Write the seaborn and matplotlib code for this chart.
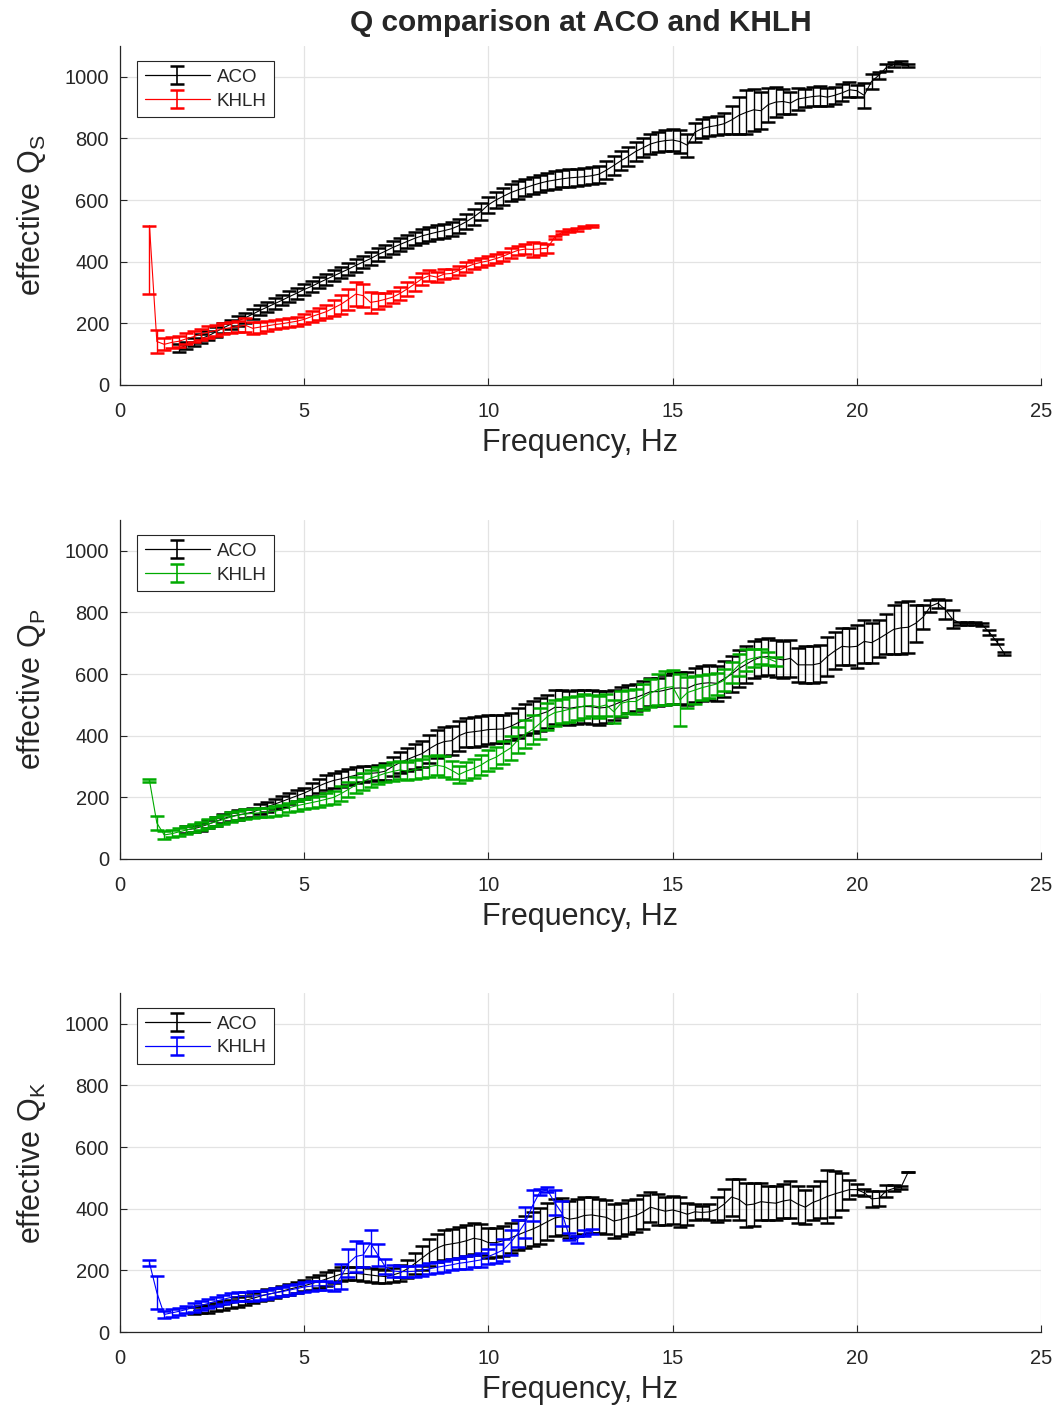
import numpy as np
import pandas as pd
import matplotlib
matplotlib.use("Agg")
import matplotlib.pyplot as plt
import seaborn as sns
from matplotlib.lines import Line2D
from matplotlib.collections import LineCollection
from matplotlib.container import ErrorbarContainer

# ---------------- data ----------------
ACO_S_F = [1.6, 1.8, 2.0, 2.2, 2.4, 2.6, 2.8, 3.0, 3.2, 3.4,
           3.6, 3.8, 4.0, 4.2, 4.4, 4.6, 4.8, 5.0, 5.2, 5.4,
           5.6, 5.8, 6.0, 6.2, 6.4, 6.6, 6.8, 7.0, 7.2, 7.4,
           7.6, 7.8, 8.0, 8.2, 8.4, 8.6, 8.8, 9.0, 9.2, 9.4,
           9.6, 9.8, 10.0, 10.2, 10.4, 10.6, 10.8, 11.0, 11.2, 11.4,
           11.6, 11.8, 12.0, 12.2, 12.4, 12.6, 12.8, 13.0, 13.2, 13.4,
           13.6, 13.8, 14.0, 14.2, 14.4, 14.6, 14.8, 15.0, 15.2, 15.4,
           15.6, 15.8, 16.0, 16.2, 16.4, 16.6, 16.8, 17.0, 17.2, 17.4,
           17.6, 17.8, 18.0, 18.2, 18.4, 18.6, 18.8, 19.0, 19.2, 19.4,
           19.6, 19.8, 20.0, 20.2, 20.4, 20.6, 20.8, 21.0, 21.2, 21.4]
ACO_S_Q = [120, 128, 140, 150, 160, 172, 185, 197, 208, 218,
           230, 242, 253, 264, 275, 287, 298, 310, 320, 332,
           343, 354, 365, 376, 388, 399, 410, 423, 434, 446,
           456, 466, 476, 484, 490, 496, 501, 507, 517, 530,
           545, 563, 585, 600, 612, 624, 633, 640, 648, 655,
           661, 665, 669, 672, 674, 676, 679, 684, 697, 712,
           728, 742, 758, 770, 782, 789, 793, 795, 790, 778,
           820, 832, 838, 842, 848, 860, 875, 885, 893, 890,
           910, 918, 920, 915, 928, 932, 936, 938, 934, 940,
           948, 958, 955, 940, 985, 1005, 1030, 1040, 1046, 1036]
ACO_S_E = [12, 12, 14, 14, 15, 15, 15, 15, 16, 16,
           16, 16, 17, 17, 17, 18, 18, 18, 18, 18,
           18, 18, 19, 19, 20, 20, 20, 20, 20, 21,
           21, 21, 22, 22, 22, 22, 23, 23, 23, 24,
           25, 26, 26, 27, 27, 28, 28, 28, 28, 28,
           28, 28, 28, 28, 28, 28, 28, 28, 30, 30,
           30, 30, 30, 30, 32, 32, 34, 35, 38, 38,
           30, 30, 30, 32, 35, 45, 60, 72, 68, 60,
           55, 50, 40, 35, 35, 30, 30, 32, 30, 28,
           28, 25, 20, 40, 25, 12, 10, 8, 6, 5]

KHLH_S_F = [0.8, 1.0, 1.2, 1.4, 1.6, 1.8, 2.0, 2.2, 2.4, 2.6,
            2.8, 3.0, 3.2, 3.4, 3.6, 3.8, 4.0, 4.2, 4.4, 4.6,
            4.8, 5.0, 5.2, 5.4, 5.6, 5.8, 6.0, 6.2, 6.4, 6.6,
            6.8, 7.0, 7.2, 7.4, 7.6, 7.8, 8.0, 8.2, 8.4, 8.6,
            8.8, 9.0, 9.2, 9.4, 9.6, 9.8, 10.0, 10.2, 10.4, 10.6,
            10.8, 11.0, 11.2, 11.4, 11.6, 11.8, 12.0, 12.2, 12.4, 12.6,
            12.8]
KHLH_S_Q = [517, 141, 132, 138, 142, 150, 157, 165, 172, 177,
            182, 186, 190, 194, 184, 188, 192, 196, 199, 203,
            207, 213, 222, 230, 238, 250, 262, 278, 295, 290,
            268, 272, 278, 285, 297, 312, 328, 345, 355, 350,
            360, 362, 372, 383, 392, 398, 403, 410, 418, 428,
            437, 441, 440, 442, 444, 480, 495, 500, 504, 512,
            516]
KHLH_S_E_LO = [222, 38, 20, 18, 18, 18, 18, 18, 18, 18,
               18, 18, 18, 22, 20, 18, 16, 15, 15, 15,
               15, 16, 18, 20, 22, 25, 30, 35, 40, 38,
               35, 25, 22, 20, 20, 22, 22, 20, 18, 16,
               16, 16, 15, 15, 15, 15, 15, 15, 15, 15,
               15, 15, 25, 20, 15, 5, 5, 5, 5, 4,
               4]
KHLH_S_E_HI = [0, 38, 20, 18, 18, 18, 18, 18, 18, 18,
               18, 18, 18, 22, 20, 18, 16, 15, 15, 15,
               15, 16, 18, 20, 22, 25, 30, 35, 40, 38,
               35, 25, 22, 20, 20, 22, 22, 20, 18, 16,
               16, 16, 15, 15, 15, 15, 15, 15, 15, 15,
               15, 15, 25, 20, 15, 5, 5, 5, 5, 4,
               4]

ACO_P_F = [1.8, 2.0, 2.2, 2.4, 2.6, 2.8, 3.0, 3.2, 3.4, 3.6,
           3.8, 4.0, 4.2, 4.4, 4.6, 4.8, 5.0, 5.2, 5.4, 5.6,
           5.8, 6.0, 6.2, 6.4, 6.6, 6.8, 7.0, 7.2, 7.4, 7.6,
           7.8, 8.0, 8.2, 8.4, 8.6, 8.8, 9.0, 9.2, 9.4, 9.6,
           9.8, 10.0, 10.2, 10.4, 10.6, 10.8, 11.0, 11.2, 11.4, 11.6,
           11.8, 12.0, 12.2, 12.4, 12.6, 12.8, 13.0, 13.2, 13.4, 13.6,
           13.8, 14.0, 14.2, 14.4, 14.6, 14.8, 15.0, 15.2, 15.4, 15.6,
           15.8, 16.0, 16.2, 16.4, 16.6, 16.8, 17.0, 17.2, 17.4, 17.6,
           17.8, 18.0, 18.2, 18.4, 18.6, 18.8, 19.0, 19.2, 19.4, 19.6,
           19.8, 20.0, 20.2, 20.4, 20.6, 20.8, 21.0, 21.2, 21.4, 21.6,
           21.8, 22.0, 22.2, 22.4, 22.6, 22.8, 23.0, 23.2, 23.4, 23.6,
           23.8, 24.0]
ACO_P_Q = [95, 98, 105, 113, 122, 131, 138, 143, 147, 152,
           162, 170, 178, 187, 196, 205, 214, 225, 237, 247,
           255, 260, 266, 272, 276, 278, 280, 285, 300, 313,
           323, 333, 342, 358, 372, 381, 384, 400, 410, 413,
           416, 420, 421, 422, 430, 442, 452, 462, 470, 478,
           492, 492, 489, 493, 495, 494, 490, 492, 500, 510,
           518, 524, 533, 543, 543, 548, 554, 555, 554, 565,
           570, 572, 570, 585, 600, 618, 632, 646, 655, 657,
           650, 646, 651, 630, 630, 630, 635, 657, 675, 690,
           688, 690, 706, 702, 715, 730, 745, 750, 752, 765,
           785, 820, 830, 810, 778, 765, 765, 764, 760, 735,
           705, 668]
ACO_P_E = [12, 12, 13, 13, 14, 14, 14, 15, 15, 15,
           15, 16, 16, 17, 17, 18, 18, 20, 22, 24,
           25, 25, 25, 25, 25, 25, 25, 28, 32, 35,
           38, 40, 42, 45, 45, 46, 46, 48, 48, 48,
           48, 46, 45, 45, 45, 48, 50, 52, 54, 54,
           55, 55, 55, 55, 55, 55, 54, 52, 50, 48,
           45, 45, 45, 45, 45, 48, 50, 52, 54, 55,
           56, 56, 56, 58, 58, 60, 60, 60, 60, 60,
           60, 60, 60, 55, 60, 60, 60, 62, 60, 60,
           60, 70, 70, 65, 60, 65, 80, 84, 85, 60,
           40, 20, 15, 30, 30, 5, 5, 5, 5, 8,
           8, 5]

KHLH_P_F = [0.8, 1.0, 1.2, 1.4, 1.6, 1.8, 2.0, 2.2, 2.4, 2.6,
            2.8, 3.0, 3.2, 3.4, 3.6, 3.8, 4.0, 4.2, 4.4, 4.6,
            4.8, 5.0, 5.2, 5.4, 5.6, 5.8, 6.0, 6.2, 6.4, 6.6,
            6.8, 7.0, 7.2, 7.4, 7.6, 7.8, 8.0, 8.2, 8.4, 8.6,
            8.8, 9.0, 9.2, 9.4, 9.6, 9.8, 10.0, 10.2, 10.4, 10.6,
            10.8, 11.0, 11.2, 11.4, 11.6, 11.8, 12.0, 12.2, 12.4, 12.6,
            12.8, 13.0, 13.2, 13.4, 13.6, 13.8, 14.0, 14.2, 14.4, 14.6,
            14.8, 15.0, 15.2, 15.4, 15.6, 15.8, 16.0, 16.2, 16.4, 16.6,
            16.8, 17.0, 17.2, 17.4, 17.6, 17.8]
KHLH_P_Q = [255, 117, 78, 82, 88, 94, 100, 107, 114, 121,
            128, 136, 142, 146, 148, 150, 152, 155, 160, 167,
            173, 178, 183, 188, 194, 200, 212, 226, 240, 252,
            262, 270, 278, 284, 289, 285, 290, 294, 300, 304,
            300, 288, 274, 285, 294, 305, 320, 330, 345, 360,
            386, 405, 420, 440, 462, 475, 480, 486, 490, 497,
            498, 494, 500, 478, 505, 511, 511, 525, 538, 550,
            556, 559, 516, 540, 548, 556, 562, 568, 580, 605,
            630, 646, 652, 657, 650, 640]
KHLH_P_E = [6, 22, 12, 12, 12, 12, 14, 14, 15, 15,
            15, 15, 15, 15, 15, 15, 15, 16, 16, 16,
            16, 16, 17, 18, 20, 22, 24, 25, 26, 27,
            28, 28, 28, 30, 30, 30, 30, 32, 33, 33,
            33, 30, 28, 30, 30, 32, 33, 35, 38, 40,
            42, 45, 48, 50, 45, 42, 40, 40, 38, 38,
            35, 35, 35, 38, 40, 38, 40, 42, 45, 50,
            55, 55, 85, 50, 45, 40, 38, 36, 35, 35,
            35, 35, 30, 25, 22, 15]

ACO_K_F = [2.0, 2.2, 2.4, 2.6, 2.8, 3.0, 3.2, 3.4, 3.6, 3.8,
           4.0, 4.2, 4.4, 4.6, 4.8, 5.0, 5.2, 5.4, 5.6, 5.8,
           6.0, 6.2, 6.4, 6.6, 6.8, 7.0, 7.2, 7.4, 7.6, 7.8,
           8.0, 8.2, 8.4, 8.6, 8.8, 9.0, 9.2, 9.4, 9.6, 9.8,
           10.0, 10.2, 10.4, 10.6, 10.8, 11.0, 11.2, 11.4, 11.6, 11.8,
           12.0, 12.2, 12.4, 12.6, 12.8, 13.0, 13.2, 13.4, 13.6, 13.8,
           14.0, 14.2, 14.4, 14.6, 14.8, 15.0, 15.2, 15.4, 15.6, 15.8,
           16.0, 16.2, 16.4, 16.6, 16.8, 17.0, 17.2, 17.4, 17.6, 17.8,
           18.0, 18.2, 18.4, 18.6, 18.8, 19.0, 19.2, 19.4, 19.6, 19.8,
           20.0, 20.2, 20.4, 20.6, 20.8, 21.0, 21.2, 21.4]
ACO_K_Q = [70, 73, 76, 80, 85, 91, 97, 103, 109, 116,
           122, 127, 133, 139, 145, 150, 157, 164, 172, 180,
           188, 190, 190, 188, 185, 182, 180, 185, 192, 205,
           222, 240, 258, 272, 282, 286, 290, 296, 304, 300,
           290, 290, 296, 305, 315, 325, 334, 345, 358, 370,
           374, 366, 370, 378, 380, 376, 372, 360, 365, 372,
           378, 390, 405, 398, 392, 396, 390, 382, 390, 388,
           390, 398, 415, 438, 430, 412, 415, 423, 420, 418,
           425, 429, 415, 405, 420, 429, 440, 448, 455, 462,
           462, 452, 432, 434, 458, 466, 470, 520]
ACO_K_E = [12, 12, 13, 13, 14, 14, 15, 15, 16, 16,
           17, 17, 17, 18, 18, 18, 20, 20, 22, 22,
           22, 22, 22, 22, 22, 22, 22, 24, 26, 30,
           35, 40, 44, 46, 48, 48, 50, 50, 50, 50,
           49, 48, 48, 48, 50, 52, 55, 58, 60, 60,
           60, 60, 60, 60, 58, 55, 55, 55, 55, 55,
           55, 55, 48, 50, 45, 45, 48, 35, 25, 20,
           25, 40, 50, 60, 65, 70, 70, 60, 55, 55,
           55, 60, 60, 55, 55, 60, 85, 75, 60, 30,
           18, 12, 25, 25, 20, 10, 5, 0]

KHLH_K_F = [0.8, 1.0, 1.2, 1.4, 1.6, 1.8, 2.0, 2.2, 2.4, 2.6,
            2.8, 3.0, 3.2, 3.4, 3.6, 3.8, 4.0, 4.2, 4.4, 4.6,
            4.8, 5.0, 5.2, 5.4, 5.6, 5.8, 6.0, 6.2, 6.4, 6.6,
            6.8, 7.0, 7.2, 7.4, 7.6, 7.8, 8.0, 8.2, 8.4, 8.6,
            8.8, 9.0, 9.2, 9.4, 9.6, 9.8, 10.0, 10.2, 10.4, 10.6,
            10.8, 11.0, 11.2, 11.4, 11.6, 11.8, 12.0, 12.2, 12.4, 12.6,
            12.8]
KHLH_K_Q = [224, 128, 57, 62, 67, 73, 80, 86, 93, 100,
            106, 112, 115, 116, 117, 118, 122, 127, 131, 136,
            141, 146, 149, 150, 150, 148, 180, 223, 245, 250,
            288, 250, 212, 198, 196, 196, 197, 200, 205, 210,
            214, 218, 223, 226, 230, 234, 245, 255, 266, 290,
            320, 355, 410, 455, 461, 420, 385, 309, 300, 320,
            326]
KHLH_K_E = [10, 54, 12, 12, 12, 12, 14, 14, 15, 15,
            15, 15, 15, 15, 15, 15, 15, 15, 15, 15,
            15, 15, 15, 15, 15, 15, 40, 45, 50, 40,
            42, 35, 25, 20, 18, 18, 18, 18, 18, 18,
            18, 18, 18, 20, 20, 22, 25, 30, 35, 40,
            45, 50, 50, 10, 8, 40, 40, 12, 10, 10,
            8]

X_TICKS = [0, 5, 10, 15, 20, 25]
Y_TICKS = [0, 200, 400, 600, 800, 1000]
YLABELS = ["effective Q$_{\\mathrm{S}}$", "effective Q$_{\\mathrm{P}}$", "effective Q$_{\\mathrm{K}}$"]
SERIES_NAMES = ["ACO", "KHLH"]
KHLH_COLORS = ["#ff0000", "#00aa00", "#0000ff"]
TITLE = "Q comparison at ACO and KHLH"

# ---------------- style ----------------
sns.set_theme(style="whitegrid")
plt.rcParams["font.family"] = ["Liberation Sans", "DejaVu Sans"]
plt.rcParams["mathtext.fontset"] = "custom"
plt.rcParams["mathtext.rm"] = "Liberation Sans"
plt.rcParams["mathtext.it"] = "Liberation Sans:italic"
plt.rcParams["mathtext.bf"] = "Liberation Sans:bold"

AX_COL = "#262626"
GRID_COL = "#e3e3e3"

fig = plt.figure(figsize=(10.54, 14.07), dpi=100)
W, H = 1054.0, 1407.0
left, width = 120 / W, 921 / W
bottoms = [1 - 385 / H, 1 - 859 / H, 1 - 1332 / H]
height = 339 / H

panels = [
    (ACO_S_F, ACO_S_Q, [ACO_S_E, ACO_S_E], KHLH_S_F, KHLH_S_Q, [KHLH_S_E_LO, KHLH_S_E_HI]),
    (ACO_P_F, ACO_P_Q, [ACO_P_E, ACO_P_E], KHLH_P_F, KHLH_P_Q, [KHLH_P_E, KHLH_P_E]),
    (ACO_K_F, ACO_K_Q, [ACO_K_E, ACO_K_E], KHLH_K_F, KHLH_K_Q, [KHLH_K_E, KHLH_K_E]),
]


def legend_proxy(col):
    pl = Line2D([], [], color=col, lw=0.9)
    cap = Line2D([], [], color=col, ls="none", marker="_", markersize=10, markeredgewidth=1.8)
    bar = LineCollection([], colors=col, linewidths=1.2)
    return ErrorbarContainer((pl, (cap, cap), (bar,)), has_xerr=False, has_yerr=True)


for i, (af, aq, ae, kf, kq, ke) in enumerate(panels):
    ax = fig.add_axes([left, bottoms[i], width, height])
    ax.set_facecolor("white")
    handles = []
    for f, q, e, col, z in [(af, aq, ae, "black", 2), (kf, kq, ke, KHLH_COLORS[i], 3)]:
        df = pd.DataFrame({"f": f, "q": q})
        ax.errorbar(df["f"], df["q"], yerr=np.array(e), fmt="none", ecolor=col,
                    elinewidth=1.0, capsize=5, capthick=1.8, zorder=z)
        sns.lineplot(data=df, x="f", y="q", ax=ax, color=col, lw=0.8,
                     estimator=None, sort=False, legend=False, zorder=z + 0.5)
        handles.append(legend_proxy(col))

    ax.set_xlim(0, 25)
    ax.set_ylim(0, 1100)
    ax.set_xticks(X_TICKS)
    ax.set_yticks(Y_TICKS)
    ax.grid(True, color=GRID_COL, lw=0.9)
    for s in ["top", "right"]:
        ax.spines[s].set_visible(False)
    for s in ["left", "bottom"]:
        ax.spines[s].set_visible(True)
        ax.spines[s].set_color(AX_COL)
        ax.spines[s].set_linewidth(0.9)
    ax.tick_params(axis="both", direction="in", length=5, width=0.8, colors=AX_COL,
                   labelsize=14.5, bottom=True, left=True)
    ax.tick_params(axis="x", pad=12)
    ax.tick_params(axis="y", pad=8)
    ax.set_xlabel("Frequency, Hz", fontsize=22, color=AX_COL, labelpad=5)
    ax.set_ylabel(YLABELS[i], fontsize=22, color=AX_COL, labelpad=12)

    leg = ax.legend(handles, SERIES_NAMES,
                    loc="upper left", bbox_to_anchor=(17 / 921, 1 - 15 / 339),
                    borderaxespad=0, fontsize=13.5, handlelength=3.5, handletextpad=0.35,
                    borderpad=0.4, labelspacing=0.36, fancybox=False, framealpha=1)
    leg.get_frame().set_edgecolor(AX_COL)
    leg.get_frame().set_linewidth(0.8)
    for t in leg.get_texts():
        t.set_color(AX_COL)

    if i == 0:
        ax.set_title(TITLE, fontsize=21.5, fontweight="bold", color=AX_COL, pad=11)

fig.savefig("out.png", dpi=100)
